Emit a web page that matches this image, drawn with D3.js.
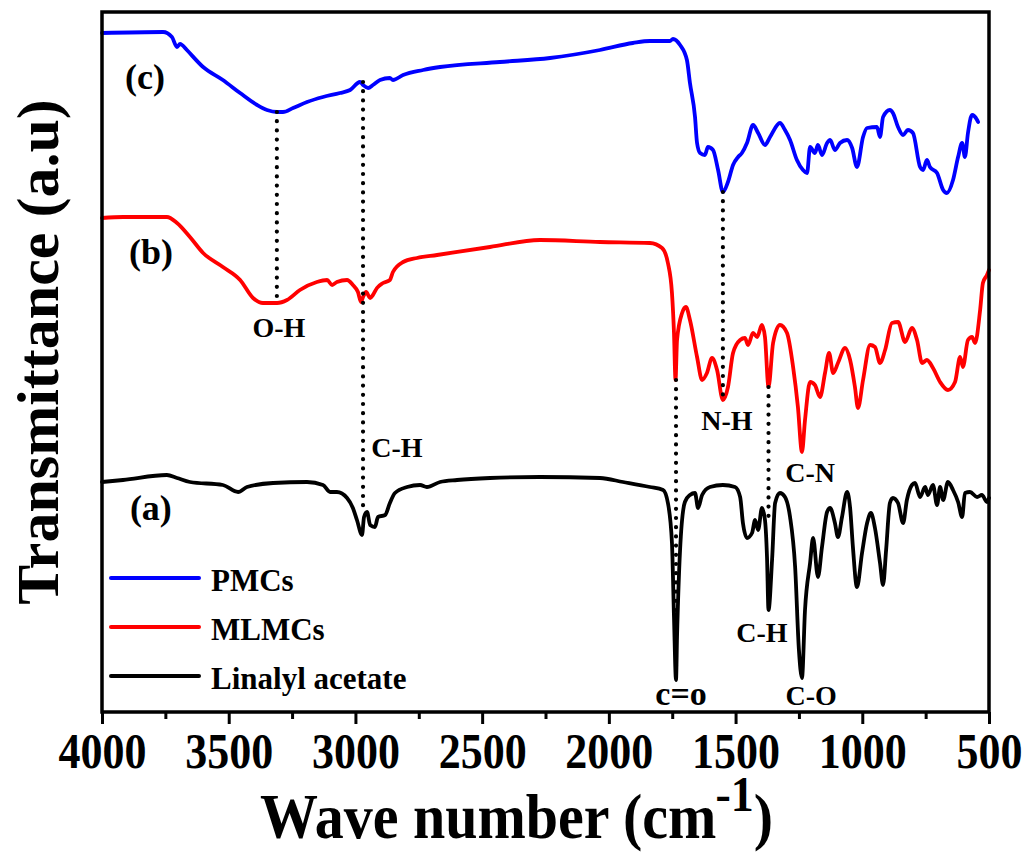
<!DOCTYPE html>
<html>
<head>
<meta charset="utf-8">
<script src="https://cdn.jsdelivr.net/npm/d3@7"></script>
<style>
  html, body { margin: 0; padding: 0; background: #fff; }
  svg { display: block; }
  text { font-family: "Liberation Serif", "Times New Roman", serif; font-weight: bold; fill: #000; }
</style>
</head>
<body>
<svg id="chart" width="1029" height="855"></svg>
<script>
// FTIR spectra: [wavenumber (cm^-1), transmittance (a.u., offset per trace)]
const pmcs = [
  [4000,6.79],[3759,6.80],[3724,6.75],[3704,6.65],[3692,6.68],[3684,6.67],[3665,6.62],
  [3601,6.45],[3523,6.32],[3455,6.19],[3388,6.07],[3349,6.02],[3309,6.00],[3286,6.00],
  [3246,6.04],[3191,6.10],[3128,6.15],[3061,6.19],[3021,6.22],[2982,6.30],[2970,6.27],
  [2950,6.24],[2931,6.27],[2903,6.32],[2864,6.34],[2852,6.32],[2812,6.37],[2733,6.42],
  [2666,6.45],[2430,6.50],[2232,6.54],[2035,6.62],[1905,6.69],[1838,6.71],[1759,6.71],
  [1747,6.73],[1719,6.67],[1692,6.52],[1680,6.29],[1660,5.95],[1652,5.69],[1640,5.59],
  [1621,5.57],[1609,5.65],[1589,5.62],[1569,5.42],[1550,5.20],[1530,5.30],[1510,5.47],
  [1490,5.55],[1475,5.59],[1455,5.69],[1431,5.87],[1411,5.79],[1384,5.67],[1364,5.75],
  [1325,5.89],[1305,5.82],[1285,5.72],[1258,5.52],[1234,5.42],[1218,5.39],[1206,5.65],
  [1187,5.59],[1175,5.67],[1159,5.57],[1139,5.69],[1127,5.72],[1108,5.62],[1088,5.69],
  [1060,5.72],[1040,5.64],[1021,5.45],[997,5.75],[981,5.84],[942,5.85],[930,5.75],
  [918,5.95],[891,6.02],[879,5.99],[859,5.85],[839,5.77],[820,5.82],[800,5.79],
  [772,5.45],[760,5.42],[745,5.52],[733,5.45],[705,5.39],[681,5.22],[666,5.19],
  [642,5.32],[622,5.55],[606,5.69],[595,5.55],[583,5.79],[567,5.97],[547,5.92],[543,5.90]
];
const mlmcs = [
  [4000,4.94],[3917,4.95],[3744,4.95],[3704,4.89],[3653,4.75],[3601,4.59],[3523,4.45],
  [3455,4.32],[3404,4.14],[3365,4.09],[3309,4.09],[3270,4.12],[3219,4.22],[3152,4.30],
  [3112,4.32],[3092,4.27],[3073,4.30],[3033,4.32],[3010,4.27],[2990,4.20],[2978,4.10],
  [2970,4.15],[2958,4.20],[2942,4.14],[2931,4.17],[2915,4.24],[2891,4.29],[2864,4.32],
  [2852,4.40],[2812,4.50],[2757,4.54],[2678,4.57],[2469,4.65],[2272,4.72],[2035,4.70],
  [1838,4.69],[1790,4.64],[1767,4.49],[1751,4.19],[1743,3.79],[1737,3.32],[1731,3.72],
  [1711,3.99],[1696,4.05],[1680,3.92],[1652,3.55],[1632,3.32],[1613,3.39],[1593,3.54],
  [1573,3.42],[1550,3.12],[1530,3.25],[1510,3.59],[1482,3.72],[1463,3.74],[1451,3.67],
  [1431,3.79],[1415,3.75],[1396,3.87],[1384,3.75],[1370,3.25],[1352,3.69],[1325,3.87],
  [1297,3.79],[1273,3.45],[1254,3.05],[1238,2.60],[1226,2.92],[1206,3.30],[1187,3.27],
  [1167,3.15],[1147,3.39],[1131,3.59],[1115,3.39],[1096,3.49],[1068,3.64],[1048,3.52],
  [1029,3.25],[1017,3.04],[997,3.32],[969,3.67],[950,3.65],[930,3.49],[910,3.62],
  [883,3.89],[859,3.90],[831,3.70],[804,3.84],[784,3.72],[764,3.49],[745,3.52],
  [721,3.44],[693,3.30],[662,3.22],[634,3.30],[614,3.55],[603,3.45],[583,3.72],
  [567,3.75],[555,3.69],[535,4.02],[524,4.29],[508,4.37],[500,4.42]
];
const linalylAcetate = [
  [4000,2.30],[3917,2.32],[3744,2.37],[3704,2.34],[3653,2.30],[3523,2.27],[3463,2.20],
  [3428,2.25],[3325,2.29],[3191,2.30],[3128,2.27],[3100,2.20],[3073,2.20],[3033,2.14],
  [3010,2.04],[2994,1.92],[2974,1.77],[2966,1.95],[2954,2.00],[2942,1.87],[2923,1.85],
  [2911,1.95],[2883,1.97],[2864,2.09],[2844,2.19],[2796,2.25],[2745,2.27],[2718,2.25],
  [2666,2.30],[2599,2.32],[2469,2.34],[2272,2.35],[2035,2.34],[1944,2.30],[1838,2.25],
  [1786,2.22],[1767,2.09],[1751,1.69],[1743,0.95],[1735,0.32],[1731,0.75],[1719,1.62],
  [1700,2.10],[1680,2.17],[1660,2.19],[1648,2.04],[1632,2.17],[1601,2.25],[1550,2.27],
  [1502,2.25],[1482,2.15],[1471,1.89],[1455,1.74],[1435,1.79],[1423,1.92],[1411,1.82],
  [1396,2.04],[1384,1.92],[1376,1.55],[1370,1.02],[1356,1.52],[1344,2.09],[1325,2.19],
  [1305,2.15],[1285,1.95],[1265,1.45],[1250,0.62],[1238,0.34],[1226,1.02],[1206,1.49],
  [1194,1.74],[1175,1.35],[1159,1.65],[1139,2.00],[1127,2.04],[1108,1.89],[1096,1.75],
  [1080,1.95],[1060,2.20],[1048,2.04],[1037,1.65],[1021,1.25],[1001,1.59],[981,1.89],
  [966,1.99],[950,1.84],[930,1.49],[918,1.27],[906,1.62],[891,2.09],[879,2.14],
  [859,2.09],[839,1.89],[824,2.12],[804,2.27],[792,2.29],[772,2.15],[752,2.25],
  [741,2.17],[721,2.27],[705,2.07],[693,2.25],[681,2.12],[662,2.30],[642,2.22],
  [622,2.10],[606,1.95],[595,2.19],[575,2.20],[547,2.15],[528,2.17],[508,2.10],[500,2.14]
];

const seriesNames  = ["PMCs", "MLMCs", "Linalyl acetate"];
const seriesColors = ["#0000ff", "#ff0000", "#000000"];
const traceLabels  = ["(c)", "(b)", "(a)"];
const traceLabelWave  = [3909, 3893, 3890];
const traceLabelValue = [6.23, 4.48, 1.92];

// Band assignments: dotted guide from one trace down to another
const bandWave   = [3310, 2970, 1735, 1550, 1370];
const bandTop    = [6.00, 6.30, 3.32, 5.20, 3.25];
const bandBottom = [4.09, 2.02, 0.40, 3.12, 1.90];

const bandLabels     = ["O-H", "C-H", "c=o", "N-H", "C-H", "C-N", "C-O"];
const bandLabelWave  = [3302, 2836, 1715, 1534, 1396, 1206, 1202];
const bandLabelValue = [3.75, 2.55, 0.07, 2.82, 0.70, 2.30, 0.07];

const majorTicks = [4000, 3500, 3000, 2500, 2000, 1500, 1000, 500];
const minorTicks = [3750, 3250, 2750, 2250, 1750, 1250, 750];

// ---- layout ----
const plotLeft = 102, plotRight = 989, plotTop = 12, plotBottom = 712;
const svg = d3.select("#chart");

const x = d3.scaleLinear().domain([4000, 500]).range([plotLeft, plotRight]);
const y = d3.scaleLinear().domain([0, 7]).range([plotBottom, plotTop]);

// bottom axis: major ticks with labels, minor ticks without
const axisMajor = svg.append("g")
  .attr("transform", `translate(0,${plotBottom})`)
  .call(d3.axisBottom(x).tickValues(majorTicks).tickSize(12).tickFormat(d3.format("d")));
axisMajor.select(".domain").remove();
axisMajor.selectAll(".tick line").attr("stroke", "#000").attr("stroke-width", 3);
axisMajor.selectAll(".tick text")
  .attr("y", 48.5).attr("dy", 0)
  .attr("transform", "scale(1,1.15)")
  .style("font-size", "44px")
  .style("font-family", '"Liberation Serif", serif')
  .style("font-weight", "bold");

const axisMinor = svg.append("g")
  .attr("transform", `translate(0,${plotBottom})`)
  .call(d3.axisBottom(x).tickValues(minorTicks).tickSize(7).tickFormat(""));
axisMinor.select(".domain").remove();
axisMinor.selectAll(".tick line").attr("stroke", "#000").attr("stroke-width", 3);

// spectra
const line = d3.line()
  .x(d => x(d[0]))
  .y(d => y(d[1]))
  .curve(d3.curveMonotoneX);

const series = [pmcs, mlmcs, linalylAcetate];
svg.append("g").selectAll("path")
  .data(series)
  .join("path")
  .attr("d", line)
  .attr("fill", "none")
  .attr("stroke", (d, i) => seriesColors[i])
  .attr("stroke-width", 3.8)
  .attr("stroke-linejoin", "round")
  .attr("stroke-linecap", "round");

// dotted band guides
svg.append("g").selectAll("line")
  .data(bandWave)
  .join("line")
  .attr("x1", d => x(d)).attr("x2", d => x(d))
  .attr("y1", (d, i) => y(bandTop[i]))
  .attr("y2", (d, i) => y(bandBottom[i]))
  .attr("stroke", "#000")
  .attr("stroke-width", 4.2)
  .attr("stroke-linecap", "round")
  .attr("stroke-dasharray", "0 9.2");

// band labels
svg.append("g").selectAll("text")
  .data(bandLabels)
  .join("text")
  .attr("x", (d, i) => x(bandLabelWave[i]))
  .attr("y", (d, i) => y(bandLabelValue[i]))
  .attr("text-anchor", "middle")
  .style("font-size", d => d === "c=o" ? "34px" : "28px")
  .text(d => d);

// trace letters
svg.append("g").selectAll("text")
  .data(traceLabels)
  .join("text")
  .attr("x", (d, i) => x(traceLabelWave[i]))
  .attr("y", (d, i) => y(traceLabelValue[i]))
  .style("font-size", "36px")
  .text(d => d);

// legend
const legend = svg.append("g").attr("transform", "translate(111,578)");
const item = legend.selectAll("g")
  .data(seriesNames)
  .join("g")
  .attr("transform", (d, i) => `translate(0,${i * 49})`);
item.append("line")
  .attr("x1", 0).attr("x2", 88).attr("y1", 0).attr("y2", 0)
  .attr("stroke", (d, i) => seriesColors[i])
  .attr("stroke-width", 4)
  .attr("stroke-linecap", "round");
item.append("text")
  .attr("x", 100).attr("y", 13)
  .style("font-size", "31px")
  .text(d => d);

// frame
svg.append("rect")
  .attr("x", plotLeft).attr("y", plotTop)
  .attr("width", plotRight - plotLeft).attr("height", plotBottom - plotTop)
  .attr("fill", "none")
  .attr("stroke", "#000")
  .attr("stroke-width", 3.5);

// axis titles
const xt = svg.append("text")
  .attr("transform", "translate(260,838) scale(1,1.08)")
  .style("font-size", "58px");
xt.append("tspan").text("Wave number (cm");
xt.append("tspan").attr("dx", -1).attr("dy", -25).style("font-size", "46px").text("-1");
xt.append("tspan").attr("dy", 25).text(")");

svg.append("text")
  .attr("transform", "translate(58,352) rotate(-90)")
  .attr("text-anchor", "middle")
  .style("font-size", "60px")
  .text("Transmittance (a.u)");
</script>
</body>
</html>
